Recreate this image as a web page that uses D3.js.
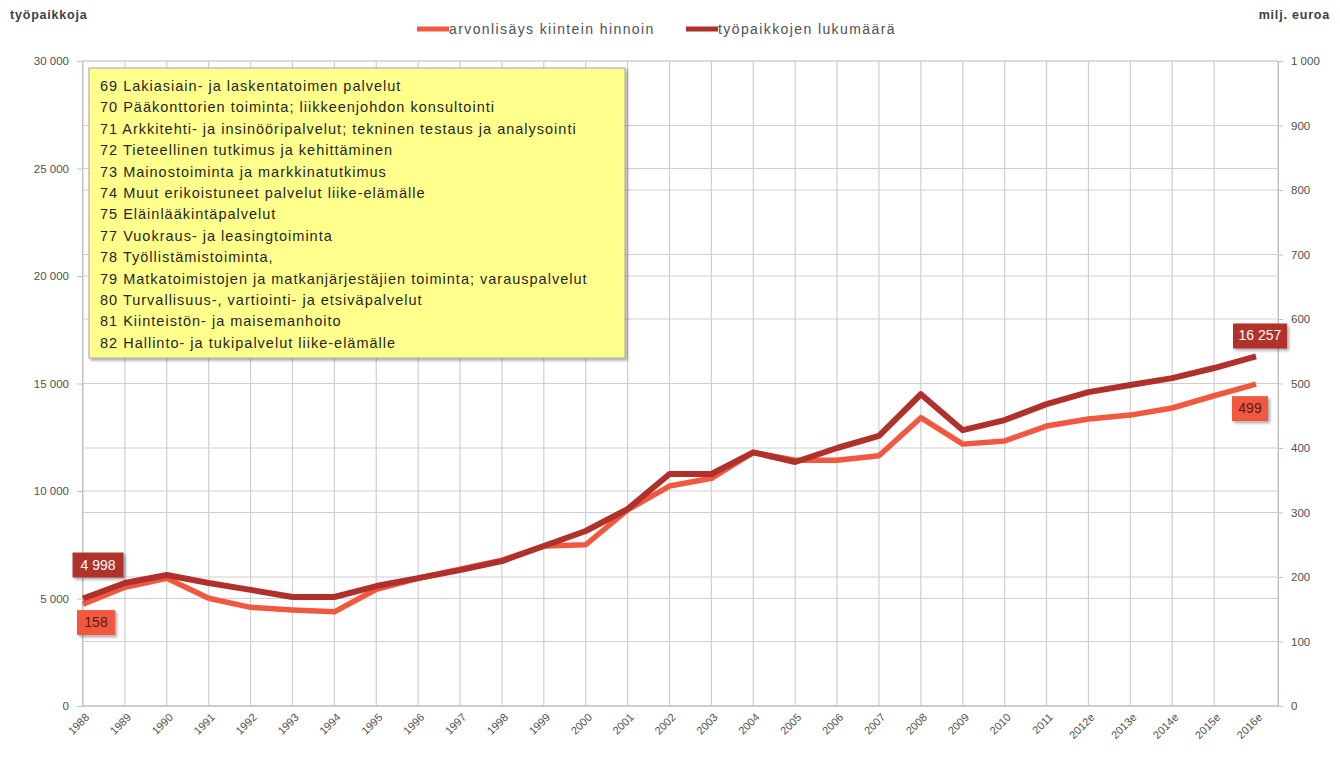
<!DOCTYPE html>
<html>
<head>
<meta charset="utf-8">
<script src="https://cdn.jsdelivr.net/npm/d3@7"></script>
<style>
  body { margin: 0; background: #fff; }
  svg { font-family: "Liberation Sans", Arial, sans-serif; }
</style>
</head>
<body>
<div id="chart"></div>
<script>
"use strict"

// categories (years, e = estimate)
var years = ["1988", "1989", "1990", "1991", "1992", "1993", "1994", "1995", "1996", "1997",
    "1998", "1999", "2000", "2001", "2002", "2003", "2004", "2005", "2006", "2007",
    "2008", "2009", "2010", "2011", "2012e", "2013e", "2014e", "2015e", "2016e"];

// työpaikkojen lukumäärä (left axis)
var jobs = [4998, 5720, 6090, 5720, 5400, 5070, 5070, 5580, 5950, 6320,
    6740, 7440, 8140, 9160, 10790, 10790, 11800, 11350, 12000, 12560,
    14500, 12830, 13300, 14040, 14600, 14930, 15250, 15720, 16257];

// arvonlisäys kiintein hinnoin, milj. euroa (right axis)
var valueAdded = [158, 184, 198, 167, 153, 149, 146, 181, 198, 212,
    226, 248, 250, 304, 341, 353, 393, 381, 381, 388,
    447, 406, 411, 434, 445, 451, 462, 481, 499];

var leftTicks = [0, 5000, 10000, 15000, 20000, 25000, 30000];
var rightTicks = [0, 100, 200, 300, 400, 500, 600, 700, 800, 900, 1000];

var boxLines = [
    "69 Lakiasiain- ja laskentatoimen palvelut",
    "70 Pääkonttorien toiminta; liikkeenjohdon konsultointi",
    "71 Arkkitehti- ja insinööripalvelut; tekninen testaus ja analysointi",
    "72 Tieteellinen tutkimus ja kehittäminen",
    "73 Mainostoiminta ja markkinatutkimus",
    "74 Muut erikoistuneet palvelut liike-elämälle",
    "75 Eläinlääkintäpalvelut",
    "77 Vuokraus- ja leasingtoiminta",
    "78 Työllistämistoiminta,",
    "79 Matkatoimistojen ja matkanjärjestäjien toiminta; varauspalvelut",
    "80 Turvallisuus-, vartiointi- ja etsiväpalvelut",
    "81 Kiinteistön- ja maisemanhoito",
    "82 Hallinto- ja tukipalvelut liike-elämälle"
];

var darkCol = "#b0302c",
    lightCol = "#f0593f",
    gridCol = "#cfcfcf",
    textCol = "#505050";

var width = 1340, height = 764;
var plot = { left: 82, right: 1278, top: 61, bottom: 706 };

var svg = d3.select("#chart")
    .append("svg")
    .attr("width", width)
    .attr("height", height);

var defs = svg.append("defs");
var f = defs.append("filter").attr("id", "shadow").attr("x", "-20%").attr("y", "-20%").attr("width", "150%").attr("height", "160%");
f.append("feDropShadow").attr("dx", 2).attr("dy", 2).attr("stdDeviation", 1.5).attr("flood-color", "#000").attr("flood-opacity", 0.35);

// scales
var x = d3.scalePoint()
    .domain(years)
    .range([83, 1256]);
var yL = d3.scaleLinear().domain([0, 30000]).range([plot.bottom, plot.top]);
var yR = d3.scaleLinear().domain([0, 1000]).range([plot.bottom, plot.top]);

// grid
var grid = svg.append("g");
grid.selectAll("line.v")
    .data(years.slice(0, years.length - 1))
    .enter().append("line")
    .attr("x1", function (d) { return x(d); })
    .attr("x2", function (d) { return x(d); })
    .attr("y1", plot.top).attr("y2", plot.bottom)
    .attr("stroke", gridCol).attr("stroke-width", 1.2);
grid.append("line")
    .attr("x1", plot.right).attr("x2", plot.right)
    .attr("y1", plot.top).attr("y2", plot.bottom)
    .attr("stroke", gridCol).attr("stroke-width", 1.2);
grid.selectAll("line.hl")
    .data(leftTicks)
    .enter().append("line")
    .attr("x1", plot.left).attr("x2", plot.right)
    .attr("y1", function (d) { return yL(d); })
    .attr("y2", function (d) { return yL(d); })
    .attr("stroke", gridCol).attr("stroke-width", 1.2);
grid.selectAll("line.hr")
    .data(rightTicks)
    .enter().append("line")
    .attr("x1", plot.left).attr("x2", plot.right)
    .attr("y1", function (d) { return yR(d); })
    .attr("y2", function (d) { return yR(d); })
    .attr("stroke", gridCol).attr("stroke-width", 1.2);

var fmt = function (v) { return d3.format(",")(v).replace(/,/g, " "); };

// left axis
var axL = svg.append("g")
    .attr("transform", "translate(" + plot.left + ",0)")
    .call(d3.axisLeft(yL).tickValues(leftTicks).tickFormat(fmt).tickSize(5).tickPadding(8));
axL.select(".domain").attr("stroke", "#bfbfbf");
axL.selectAll(".tick line").attr("stroke", "#bfbfbf");
axL.selectAll("text").attr("fill", textCol).style("font-size", "11.5px");

// right axis
var axR = svg.append("g")
    .attr("transform", "translate(" + plot.right + ",0)")
    .call(d3.axisRight(yR).tickValues(rightTicks).tickFormat(fmt).tickSize(5).tickPadding(8));
axR.select(".domain").attr("stroke", "#bfbfbf");
axR.selectAll(".tick line").attr("stroke", "#bfbfbf");
axR.selectAll("text").attr("fill", textCol).style("font-size", "11.5px");

// bottom axis
svg.append("line")
    .attr("x1", plot.left).attr("x2", plot.right)
    .attr("y1", plot.bottom).attr("y2", plot.bottom)
    .attr("stroke", "#bfbfbf");
svg.append("g")
    .selectAll("text")
    .data(years)
    .enter().append("text")
    .attr("transform", function (d) { return "translate(" + (x(d) + 7) + "," + (plot.bottom + 12) + ") rotate(-45)"; })
    .attr("text-anchor", "end")
    .attr("fill", textCol)
    .style("font-size", "11px")
    .text(function (d) { return d; });

// axis titles
svg.append("text").attr("x", 10).attr("y", 19)
    .attr("fill", "#404040").style("font-size", "12.5px").style("font-weight", "bold")
    .style("letter-spacing", "0.8px")
    .text("työpaikkoja");
svg.append("text").attr("x", 1330).attr("y", 19).attr("text-anchor", "end")
    .attr("fill", "#404040").style("font-size", "12.5px").style("font-weight", "bold")
    .style("letter-spacing", "0.8px")
    .text("milj. euroa");

// legend
var legend = [
    { name: "arvonlisäys kiintein hinnoin", col: lightCol, x: 417 },
    { name: "työpaikkojen lukumäärä", col: darkCol, x: 686 }
];
var lg = svg.append("g").selectAll("g").data(legend).enter().append("g")
    .attr("transform", function (d) { return "translate(" + d.x + ",29)"; });
lg.append("line").attr("x1", 0).attr("x2", 32).attr("stroke", function (d) { return d.col; }).attr("stroke-width", 5);
lg.append("text").attr("x", 32).attr("y", 5).attr("fill", textCol).style("font-size", "14px")
    .style("letter-spacing", "1.4px")
    .text(function (d) { return d.name; });

// lines
var lineL = d3.line().x(function (d, i) { return x(years[i]); }).y(function (d) { return yL(d); });
var lineR = d3.line().x(function (d, i) { return x(years[i]); }).y(function (d) { return yR(d); });

svg.append("path")
    .datum(valueAdded)
    .attr("d", lineR)
    .attr("fill", "none")
    .attr("stroke", lightCol)
    .attr("stroke-width", 5.5)
    .attr("stroke-linejoin", "round");
svg.append("path")
    .datum(jobs)
    .attr("d", lineL)
    .attr("fill", "none")
    .attr("stroke", darkCol)
    .attr("stroke-width", 6)
    .attr("stroke-linejoin", "round");

// data labels
function dataLabel(txt, cx, cy, w, fill, tcol) {
    var g = svg.append("g");
    g.append("rect")
        .attr("x", cx - w / 2).attr("y", cy - 12)
        .attr("width", w).attr("height", 25)
        .attr("fill", fill)
        .attr("filter", "url(#shadow)");
    g.append("text")
        .attr("x", cx).attr("y", cy + 5)
        .attr("text-anchor", "middle")
        .attr("fill", tcol)
        .style("font-size", "14px")
        .text(txt);
}
var last = years.length - 1;
dataLabel(fmt(jobs[0]), x(years[0]) + 15, yL(jobs[0]) - 34, 51, darkCol, "#fff");
dataLabel(fmt(valueAdded[0]), x(years[0]) + 13, yR(valueAdded[0]) + 18, 38, lightCol, "#5a1a10");
dataLabel(fmt(jobs[last]), x(years[last]) + 4, yL(jobs[last]) - 21, 54, darkCol, "#fff");
dataLabel(fmt(valueAdded[last]), x(years[last]) - 6, yR(valueAdded[last]) + 24, 36, lightCol, "#5a1a10");

// text box
var box = svg.append("g").attr("transform", "translate(89,68)");
box.append("rect")
    .attr("width", 536).attr("height", 290)
    .attr("fill", "#ffff8c")
    .attr("stroke", "#a6a6a6")
    .attr("stroke-width", 1)
    .attr("filter", "url(#shadow)");
box.selectAll("text")
    .data(boxLines)
    .enter().append("text")
    .attr("x", 11)
    .attr("y", function (d, i) { return 23 + i * 21.4; })
    .attr("fill", "#262626")
    .style("font-size", "14.5px")
    .style("letter-spacing", "1px")
    .text(function (d) { return d; });
</script>
</body>
</html>
